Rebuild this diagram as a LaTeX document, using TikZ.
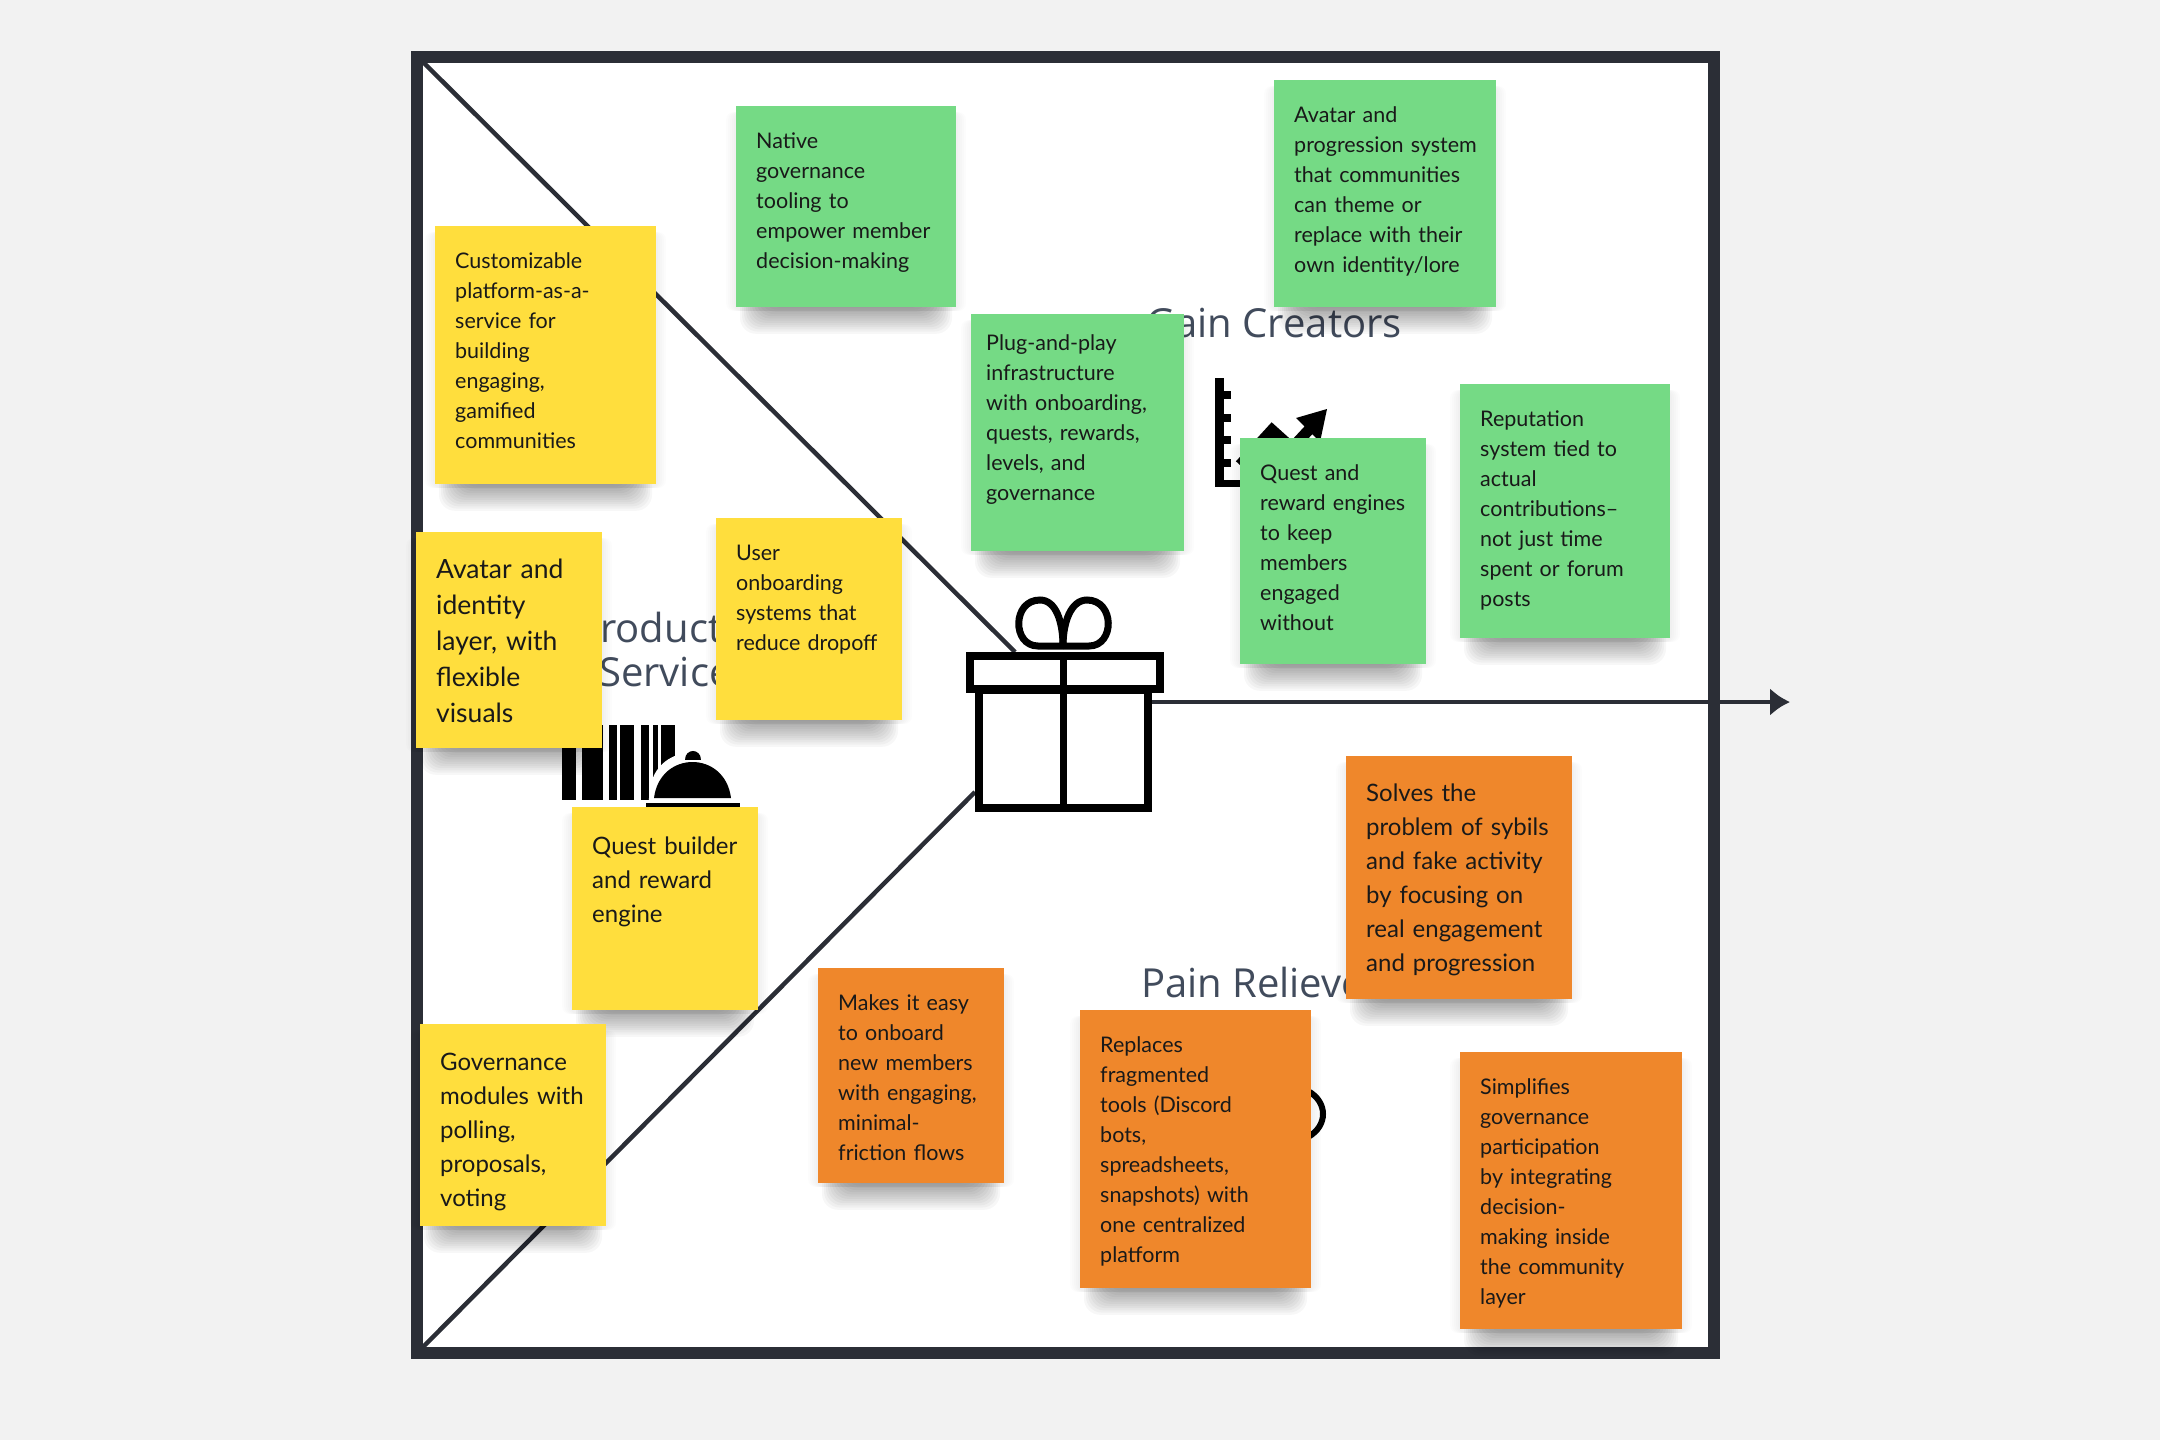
\documentclass[tikz,border=0pt]{standalone}
\usepackage{fontspec}
\setmainfont[WordSpace=1.15]{Lato}
\newfontfamily\titlefont{Open Sans}
\usetikzlibrary{arrows.meta}
\definecolor{bgc}{HTML}{F2F2F2}
\definecolor{ink}{HTML}{2B2E36}
\definecolor{ttl}{HTML}{414B5C}
\definecolor{ylw}{HTML}{FFDE3D}
\definecolor{grn}{HTML}{75DA85}
\definecolor{org}{HTML}{EF872B}
\newcommand{\fS}{\fontsize{21.5}{30}\selectfont}
\newcommand{\fM}{\fontsize{24}{34}\selectfont}
\newcommand{\fL}{\fontsize{26.5}{36}\selectfont}
\newcommand{\backfive}{\hspace*{-5pt}}
\tikzset{
  frameline/.style={draw=ink,line width=12pt,fill=white,line join=miter},
  rule/.style={draw=ink,line width=4.5pt},
  arrowline/.style={rule,-{Latex[length=20pt,width=28pt]}},
  iconline/.style={draw=black,line width=8pt,line join=miter},
  titletext/.style={font=\titlefont\fontsize{40}{44}\selectfont,text=ttl,inner sep=0pt,anchor=base west},
  notebase/.style={inner ysep=0pt,inner xsep=20pt,anchor=north west,align=left,text=black!90},
  softshadow/.style={fill=black,draw=none,opacity=0.032},
  softglow/.style={fill=black,draw=none,opacity=0.012},
}
% name, x1, y1, x2, y2, colour, font, baseline offset, text
\newcommand{\stickynote}[9]{%
  \foreach \sh in {0,1,...,14}{%
    \fill[softshadow,rounded corners=16pt]
      ({#2+32-2*\sh},{#3+20}) rectangle ({#4-32+2*\sh},{#5-4+2.2*\sh});
  }%
  \foreach \sh in {2,4,...,10}{%
    \fill[softglow,rounded corners=8pt] ({#2-\sh},{#3+6}) rectangle ({#4+\sh},{#5+4});
  }%
  \pgfmathsetlengthmacro{\nw}{(#4-#2-40)*1pt}%
  \pgfmathsetlengthmacro{\nh}{(#5-#3-#8)*1pt}%
  \node[notebase,fill=#6,font=#7,text width=\nw,text height=#8pt,text depth=\nh] (#1) at (#2,#3) {\rightskip=-40pt plus 1fil\relax #9};%
}
\begin{document}
\begin{tikzpicture}[x=1pt,y=-1pt]
\useasboundingbox (0,0) rectangle (2160,1440);
\fill[bgc] (0,0) rectangle (2160,1440);
\draw[frameline] (417,56.5) rectangle (1714,1353);
\coordinate (cornerTL) at (423,62);
\coordinate (cornerBL) at (423,1347);
\coordinate (giftTop) at (1015,652);
\coordinate (giftLow) at (975,792);
\coordinate (giftRight) at (1152,702);
\coordinate (arrowEnd) at (1790,702);
\draw[rule] (cornerTL) -- (giftTop);
\draw[rule] (cornerBL) -- (giftLow);
\draw[arrowline] (giftRight) -- (arrowEnd);

% titles
\node[titletext] (gainT) at (1146,337) {Gain Creators};
\node[titletext] (painT) at (1141,997) {Pain Relievers};
\node[titletext,align=left,anchor=north west] (prodT) at (576,612) {Products and\\\hspace*{23pt}Services};

% barcode
\foreach \a/\b in {562/576,582/587,587/603,609/617,620/634,641/649,653/658,661/675}
  \fill[black] (\a,725) rectangle (\b,800);
% bell
\fill[white] (648,806) -- (650,790) .. controls (655,740) and (730,740) .. (736,790) -- (738,806) -- cycle;
\fill[black] (654,798) .. controls (660,750) and (725,750) .. (731,798) -- cycle;
\fill[black] (685,760) .. controls (685,748) and (701,748) .. (701,760) -- cycle;
\fill[black] (646,803) rectangle (740,809);

% chart icon
\fill[black] (1215,378) rectangle (1224,487);
\fill[black] (1215,480) rectangle (1250,487);
\foreach \ty in {395,418,440,463} \fill[black] (1224,{\ty-4}) rectangle (1231,{\ty+4});
\draw[draw=black,line width=11pt,line join=miter] (1240,465) -- (1272,430) -- (1292,448) -- (1318,420);
\fill[black] (1296,418) -- (1327,409) -- (1320,442) -- cycle;

% cut-off circle icon
\draw[draw=black,line width=6pt] (1308,1091) .. controls (1328,1102) and (1328,1126) .. (1308,1137);

% gift
\draw[iconline,fill=white] (979,690) rectangle (1148,808);
\draw[iconline,fill=white] (970,656) rectangle (1160,689);
\draw[draw=black,line width=7pt] (1063,656) -- (1063,808);
\draw[draw=black,line width=7pt] (1063,646) -- (1038,646) .. controls (1012,646) and (1012,600) .. (1040,600) .. controls (1056,600) and (1063,622) .. (1063,646);
\draw[draw=black,line width=7pt] (1063,646) -- (1089,646) .. controls (1115,646) and (1115,600) .. (1087,600) .. controls (1071,600) and (1063,622) .. (1063,646);

% notes
\stickynote{y1}{435}{226}{656}{484}{ylw}{\fS}{42}{Customizable\\platform-as-a-\\service for\\building\\engaging,\\gamified\\communities}
\stickynote{y2}{416}{532}{602}{748}{ylw}{\fL}{46}{Avatar and\\identity\\layer, with\\flexible\\visuals}
\stickynote{y3}{716}{518}{902}{720}{ylw}{\fS}{42}{User\\onboarding\\systems that\\reduce dropoff}
\stickynote{y4}{572}{807}{758}{1010}{ylw}{\fM}{47}{Quest builder\\and reward\\engine}
\stickynote{y5}{420}{1024}{606}{1226}{ylw}{\fM}{46}{Governance\\modules with\\polling,\\proposals,\\voting}
\stickynote{g1}{736}{106}{956}{307}{grn}{\fS}{42}{Native\\governance\\tooling to\\empower member\\decision-making}
\stickynote{g2}{1274}{80}{1496}{307}{grn}{\fS}{42}{Avatar and\\progression system\\that communities\\can theme or\\replace with their\\own identity/lore}
\stickynote{g3}{971}{314}{1184}{551}{grn}{\fS}{36}{\backfive Plug-and-play\\\backfive infrastructure\\\backfive with onboarding,\\\backfive quests, rewards,\\\backfive levels, and\\\backfive governance}
\stickynote{g4}{1240}{438}{1426}{664}{grn}{\fS}{42}{Quest and\\reward engines\\to keep\\members\\engaged\\without}
\stickynote{g5}{1460}{384}{1670}{638}{grn}{\fS}{42}{Reputation\\system tied to\\actual\\contributions--\\not just time\\spent or forum\\posts}
\stickynote{o1}{1346}{756}{1572}{999}{org}{\fM}{45}{Solves the\\problem of sybils\\and fake activity\\by focusing on\\real engagement\\and progression}
\stickynote{o2}{818}{968}{1004}{1183}{org}{\fS}{42}{Makes it easy\\to onboard\\new members\\with engaging,\\minimal-\\friction flows}
\stickynote{o3}{1080}{1010}{1311}{1288}{org}{\fS}{42}{Replaces\\fragmented\\tools (Discord\\bots,\\spreadsheets,\\snapshots) with\\one centralized\\platform}
\stickynote{o4}{1460}{1052}{1682}{1329}{org}{\fS}{42}{Simplifies\\governance\\participation\\by integrating\\decision-\\making inside\\the community\\layer}
\end{tikzpicture}
\end{document}
